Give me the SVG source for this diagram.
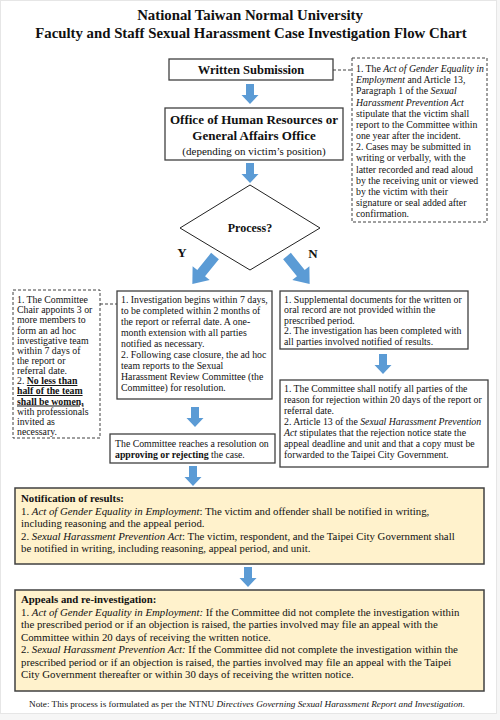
<svg xmlns="http://www.w3.org/2000/svg" width="500" height="720" viewBox="0 0 500 720" font-family="Liberation Serif, serif">
<style>
text, tspan{font-family:'Liberation Serif',serif}
text{fill:#111}
.t{font-size:14.8px;font-weight:bold;text-anchor:middle}
.box{fill:#fff;stroke:#404040;stroke-width:1.3}
.dash{fill:#fff;stroke:#404040;stroke-width:1;stroke-dasharray:3,2}
.yel{fill:#FFF2CC;stroke:#404040;stroke-width:1.5}
.arr{fill:#5B9BD5}
.lead{fill:none;stroke:#404040;stroke-width:1;stroke-dasharray:3,2}
.s{font-size:9.8px}
.m{font-size:10.8px}
.i{font-style:italic}
.b{font-weight:bold}
.u{font-weight:bold;text-decoration:underline}
</style>
<defs>
<path id="down" d="M-4,0 H4 V11 H8.5 L0,20 L-8.5,11 H-4 Z"/>
<path id="diag" d="M-5,0 H5 V22 H11 L0,36 L-11,22 H-5 Z"/>
</defs>
<rect x="0" y="0" width="500" height="720" fill="#f6f6f6"/>
<rect x="0.5" y="0.5" width="496" height="713" fill="#fff" stroke="#e6e6e6"/>

<g id="title">
<text class="t" x="250" y="20">National Taiwan Normal University</text>
<text class="t" x="251" y="38">Faculty and Staff Sexual Harassment Case Investigation Flow Chart</text>
</g>

<g id="connectors">
<line class="lead" x1="333" y1="70" x2="352" y2="70"/>
<line class="lead" x1="100" y1="304" x2="117" y2="304"/>
<use href="#down" class="arr" x="250" y="84"/>
<use href="#down" class="arr" x="250" y="163"/>
<use href="#diag" class="arr" transform="translate(215,256) rotate(39)"/>
<use href="#diag" class="arr" transform="translate(287,256) rotate(-39)"/>
<use href="#down" class="arr" x="383" y="354"/>
<use href="#down" class="arr" x="195" y="407"/>
<use href="#down" class="arr" x="193" y="466"/>
<use href="#down" class="arr" x="248" y="567"/>
</g>

<g id="written">
<rect class="box" x="169" y="59" width="164" height="21"/>
<text x="251" y="74" text-anchor="middle" font-size="12.5" font-weight="bold">Written Submission</text>
</g>

<g id="note-submission">
<rect class="dash" x="352" y="58" width="135" height="164"/>
<text class="s" x="356" y="72">1. The <tspan class="i">Act of Gender Equality in</tspan></text>
<text class="s" x="356" y="83">
<tspan class="i">Employment</tspan> and Article 13,</text>
<text class="s" x="356" y="94">Paragraph 1 of the <tspan class="i">Sexual</tspan></text>
<text class="s" x="356" y="105.5"><tspan class="i">Harassment Prevention Act</tspan></text>
<text class="s" x="356" y="116.5">stipulate that the victim shall</text>
<text class="s" x="356" y="127.5">report to the Committee within</text>
<text class="s" x="356" y="139">one year after the incident.</text>
<text class="s" x="356" y="150">2. Cases may be submitted in</text>
<text class="s" x="356" y="161">writing or verbally, with the</text>
<text class="s" x="356" y="172.5">latter recorded and read aloud</text>
<text class="s" x="356" y="183.5">by the receiving unit or viewed</text>
<text class="s" x="356" y="194.5">by the victim with their</text>
<text class="s" x="356" y="206">signature or seal added after</text>
<text class="s" x="356" y="217">confirmation.</text>
</g>

<g id="office">
<rect class="box" x="165" y="108" width="178" height="52"/>
<text x="254" y="124" text-anchor="middle" font-size="13" font-weight="bold">Office of Human Resources or</text>
<text x="254" y="140" text-anchor="middle" font-size="13" font-weight="bold">General Affairs Office</text>
<text x="254" y="155" text-anchor="middle" font-size="11">(depending on victim’s position)</text>
</g>

<g id="decision">
<polygon points="250,185 320,228 250,270 180,228" fill="#fff" stroke="#222" stroke-width="1"/>
<text x="250" y="232" text-anchor="middle" font-size="12" font-weight="bold">Process?</text>
<text x="182" y="257" text-anchor="middle" font-size="13" font-weight="bold">Y</text>
<text x="313" y="258" text-anchor="middle" font-size="13" font-weight="bold">N</text>
</g>

<g id="note-team">
<rect class="dash" x="13" y="290" width="87" height="148"/>
<text class="s" x="17" y="303">1. The Committee</text>
<text class="s" x="17" y="313">Chair appoints 3 or</text>
<text class="s" x="17" y="323">more members to</text>
<text class="s" x="17" y="333.5">form an ad hoc</text>
<text class="s" x="17" y="343.5">investigative team</text>
<text class="s" x="17" y="353.5">within 7 days of</text>
<text class="s" x="17" y="363.5">the report or</text>
<text class="s" x="17" y="374">referral date.</text>
<text class="s" x="17" y="384">2. <tspan class="u">No less than</tspan></text>
<text class="s" x="17" y="394"><tspan class="u">half of the team</tspan></text>
<text class="s" x="17" y="404.5"><tspan class="u">shall be women,</tspan></text>
<text class="s" x="17" y="414.5">with professionals</text>
<text class="s" x="17" y="424.5">invited as</text>
<text class="s" x="17" y="434.5">necessary.</text>
</g>

<g id="investigation">
<rect class="box" x="117" y="291" width="155" height="108"/>
<text class="s" x="121" y="303">1. Investigation begins within 7 days,</text>
<text class="s" x="121" y="314">to be completed within 2 months of</text>
<text class="s" x="121" y="325">the report or referral date. A one-</text>
<text class="s" x="121" y="336">month extension with all parties</text>
<text class="s" x="121" y="347">notified as necessary.</text>
<text class="s" x="121" y="358">2. Following case closure, the ad hoc</text>
<text class="s" x="121" y="369">team reports to the Sexual</text>
<text class="s" x="121" y="380">Harassment Review Committee  (the</text>
<text class="s" x="121" y="391">Committee) for resolution.</text>
</g>

<g id="supplemental">
<rect class="box" x="280" y="291" width="188" height="58"/>
<text class="s" x="284" y="302.5">1. Supplemental documents for the written or</text>
<text class="s" x="284" y="313">oral record are not provided within the</text>
<text class="s" x="284" y="323.5">prescribed period.</text>
<text class="s" x="284" y="334">2. The investigation has been completed with</text>
<text class="s" x="284" y="344.5">all parties involved notified of results.</text>
</g>

<g id="rejection">
<rect class="box" x="280" y="380" width="208" height="87"/>
<text class="s" x="284" y="392">1. The Committee shall notify all parties of the</text>
<text class="s" x="284" y="403">reason for rejection within 20 days of the report or</text>
<text class="s" x="284" y="414">referral date.</text>
<text class="s" x="284" y="425">2. Article 13 of the <tspan class="i">Sexual Harassment Prevention</tspan></text>
<text class="s" x="284" y="436"><tspan class="i">Act</tspan> stipulates that the rejection notice state the</text>
<text class="s" x="284" y="447">appeal deadline and unit and that a copy must be</text>
<text class="s" x="284" y="458">forwarded to the Taipei City Government.</text>
</g>

<g id="resolution">
<rect class="box" x="110" y="434" width="165" height="29"/>
<text class="s" x="115" y="446.5">The Committee reaches a resolution on</text>
<text class="s" x="115" y="458"><tspan class="b">approving or rejecting</tspan> the case.</text>
</g>

<g id="notification">
<rect class="yel" x="15" y="488" width="469" height="76"/>
<text class="m b" x="21" y="502">Notification of results:</text>
<text class="m" x="21" y="514.5">1. <tspan class="i">Act of Gender Equality in Employment</tspan>: The victim and offender shall be notified in writing,</text>
<text class="m" x="21" y="527">including reasoning and the appeal period.</text>
<text class="m" x="21" y="539.5">2. <tspan class="i">Sexual Harassment Prevention Act</tspan>: The victim, respondent, and the Taipei City Government shall</text>
<text class="m" x="21" y="552">be notified in writing, including reasoning, appeal period, and unit.</text>
</g>

<g id="appeals">
<rect class="yel" x="15" y="590" width="469" height="101"/>
<text class="m b" x="21" y="603">Appeals and re-investigation:</text>
<text class="m" x="21" y="615.5">1. <tspan class="i">Act of Gender Equality in Employment:</tspan> If the Committee did not complete the investigation within</text>
<text class="m" x="21" y="628">the prescribed period or if an objection is raised, the parties involved may file an appeal with the</text>
<text class="m" x="21" y="640.5">Committee within 20 days of receiving the written notice.</text>
<text class="m" x="21" y="653">2. <tspan class="i">Sexual Harassment Prevention Act:</tspan> If the Committee did not complete the investigation within the</text>
<text class="m" x="21" y="665.5">prescribed period or if an objection is raised, the parties involved may file an appeal with the Taipei</text>
<text class="m" x="21" y="678">City Government thereafter or within 30 days of receiving the written notice.</text>
</g>

<g id="footnote">
<text x="247" y="707" text-anchor="middle" font-size="9.2">Note: This process is formulated as per the NTNU <tspan class="i">Directives Governing Sexual Harassment Report and Investigation</tspan>.</text>
</g>
</svg>
